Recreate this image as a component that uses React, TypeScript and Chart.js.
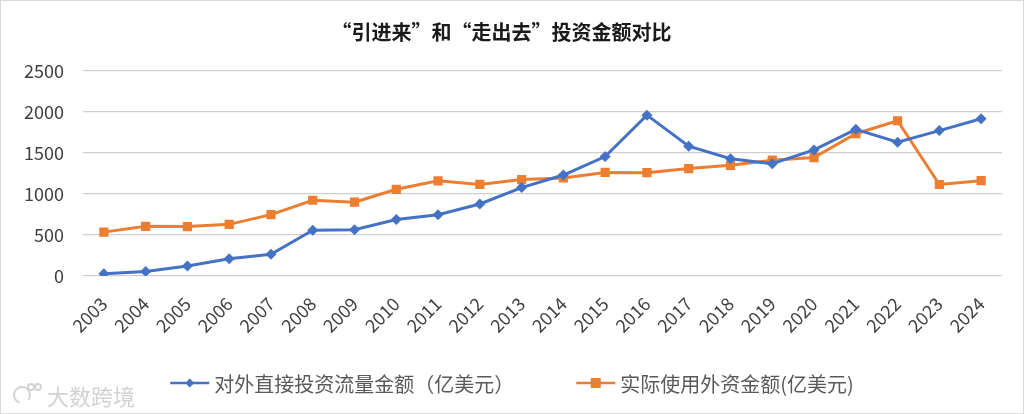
import React, { useEffect, useRef } from "react";
import { Chart, registerables } from "chart.js";

Chart.register(...registerables);

const years = ["2003","2004","2005","2006","2007","2008","2009","2010","2011","2012","2013","2014","2015","2016","2017","2018","2019","2020","2021","2022","2023","2024"];
const odiFlow = [28.5, 55, 122.6, 211.6, 265.1, 559.1, 565.3, 688.1, 746.5, 878, 1078, 1231, 1456.7, 1961.5, 1582.9, 1430.4, 1369.1, 1537.1, 1788.2, 1631.2, 1772.9, 1918];
const fdiUsed = [535, 606, 603, 630, 748, 924, 900, 1057, 1160, 1117, 1176, 1196, 1263, 1260, 1310, 1350, 1412, 1444, 1735, 1893, 1116, 1163];
const yTicks = [0, 500, 1000, 1500, 2000, 2500];

const titleText = "“引进来”和“走出去”投资金额对比";
const seriesNames = ["对外直接投资流量金额（亿美元）", "实际使用外资金额(亿美元)"];
const watermark = "大数跨境";

const BLUE = "#4472C4";
const ORANGE = "#ED7D31";
const FONT = "'Noto Sans CJK SC', 'Noto Sans', sans-serif";

function drawIcon(ctx: CanvasRenderingContext2D, x: number, y: number, color: string, kind: string) {
  ctx.strokeStyle = color;
  ctx.lineWidth = 2.5;
  ctx.beginPath();
  ctx.moveTo(x, y);
  ctx.lineTo(x + 39, y);
  ctx.stroke();
  ctx.fillStyle = color;
  const cx = x + 19.5;
  if (kind === "rectRot") {
    ctx.beginPath();
    ctx.moveTo(cx, y - 4.5);
    ctx.lineTo(cx + 4.5, y);
    ctx.lineTo(cx, y + 4.5);
    ctx.lineTo(cx - 4.5, y);
    ctx.closePath();
    ctx.fill();
  } else {
    ctx.fillRect(cx - 5, y - 5, 10, 10);
  }
}

const legendPlugin = {
  id: "customLegend",
  afterDraw(chart: any) {
    const ctx = chart.ctx as CanvasRenderingContext2D;
    const ds = chart.data.datasets;
    ctx.save();
    ctx.font = `20px ${FONT}`;
    ctx.textBaseline = "middle";
    const iconW = 39;
    const textGap = 5;
    const itemGap = 62;
    const widths = ds.map((d: any) => iconW + textGap + ctx.measureText(d.label).width);
    const total = widths.reduce((a: number, b: number) => a + b, 0) + itemGap * (ds.length - 1);
    let x = chart.width / 2 - total / 2;
    const y = 382;
    ds.forEach((d: any, i: number) => {
      drawIcon(ctx, x, y, d.borderColor, d.pointStyle);
      ctx.fillStyle = "#595959";
      ctx.fillText(d.label, x + iconW + textGap, y + 1);
      x += widths[i] + itemGap;
    });
    ctx.restore();
  },
};

const watermarkPlugin = {
  id: "watermark",
  afterDraw(chart: any) {
    const ctx = chart.ctx;
    ctx.save();
    ctx.font = `22px ${FONT}`;
    ctx.fillStyle = "rgba(205,205,205,0.9)";
    ctx.textBaseline = "middle";
    ctx.fillText(watermark, 46, 396);
    ctx.strokeStyle = "rgba(205,205,205,0.9)";
    ctx.lineWidth = 2;
    ctx.beginPath();
    ctx.arc(21, 394, 8, Math.PI * 0.6, Math.PI * 2.2);
    ctx.stroke();
    ctx.beginPath();
    ctx.arc(30, 386, 3, 0, Math.PI * 2);
    ctx.stroke();
    ctx.beginPath();
    ctx.arc(37, 386, 3, 0, Math.PI * 2);
    ctx.stroke();
    ctx.restore();
  },
};

export default function App() {
  const ref = useRef<HTMLCanvasElement | null>(null);
  useEffect(() => {
    document.body.style.margin = "0";
    const chart = new Chart(ref.current!, {
      type: "line",
      data: {
        labels: years,
        datasets: [
          {
            label: seriesNames[0],
            data: odiFlow,
            borderColor: BLUE,
            backgroundColor: BLUE,
            borderWidth: 3,
            pointStyle: "rectRot",
            pointRadius: 5.5,
            pointBorderWidth: 0,
            tension: 0,
          },
          {
            label: seriesNames[1],
            data: fdiUsed,
            borderColor: ORANGE,
            backgroundColor: ORANGE,
            borderWidth: 3,
            pointStyle: "rect",
            pointRadius: 6.5,
            pointBorderWidth: 0,
            tension: 0,
          },
        ],
      },
      options: {
        animation: false,
        responsive: false,
        maintainAspectRatio: false,
        layout: { padding: { left: 0, right: 21, top: 0, bottom: 52 } },
        plugins: {
          title: {
            display: true,
            text: titleText,
            color: "#1a1a1a",
            font: { family: FONT, size: 20, weight: "bold" },
            padding: { top: 19, bottom: 27 },
          },
          legend: { display: false },
          tooltip: { enabled: false },
        },
        scales: {
          x: {
            offset: true,
            grid: { display: false, drawTicks: false },
            border: { display: false },
            ticks: {
              color: "#404040",
              font: { family: FONT, size: 18 },
              minRotation: 45,
              maxRotation: 45,
              padding: 17,
              autoSkip: false,
            },
            afterFit: (s: any) => {
              s.height = 85;
            },
          },
          y: {
            min: 0,
            max: 2500,
            afterBuildTicks: (s: any) => {
              s.ticks = yTicks.map((v) => ({ value: v }));
            },
            grid: { color: "#cfcfcf", lineWidth: 1.3, drawTicks: false },
            border: { display: false },
            ticks: {
              color: "#404040",
              font: { family: FONT, size: 18 },
              padding: 19,
              callback: (v: any) => String(v),
            },
            afterFit: (s: any) => {
              s.width = 82;
            },
          },
        },
      },
      plugins: [legendPlugin, watermarkPlugin],
    });
    return () => chart.destroy();
  }, []);
  return (
    <div
      style={{
        position: "absolute",
        left: 0,
        top: 0,
        width: 1024,
        height: 414,
        boxSizing: "border-box",
        border: "1px solid #d9d9d9",
        background: "#fff",
      }}
    >
      <canvas ref={ref} width={1022} height={412} style={{ display: "block" }} />
    </div>
  );
}
